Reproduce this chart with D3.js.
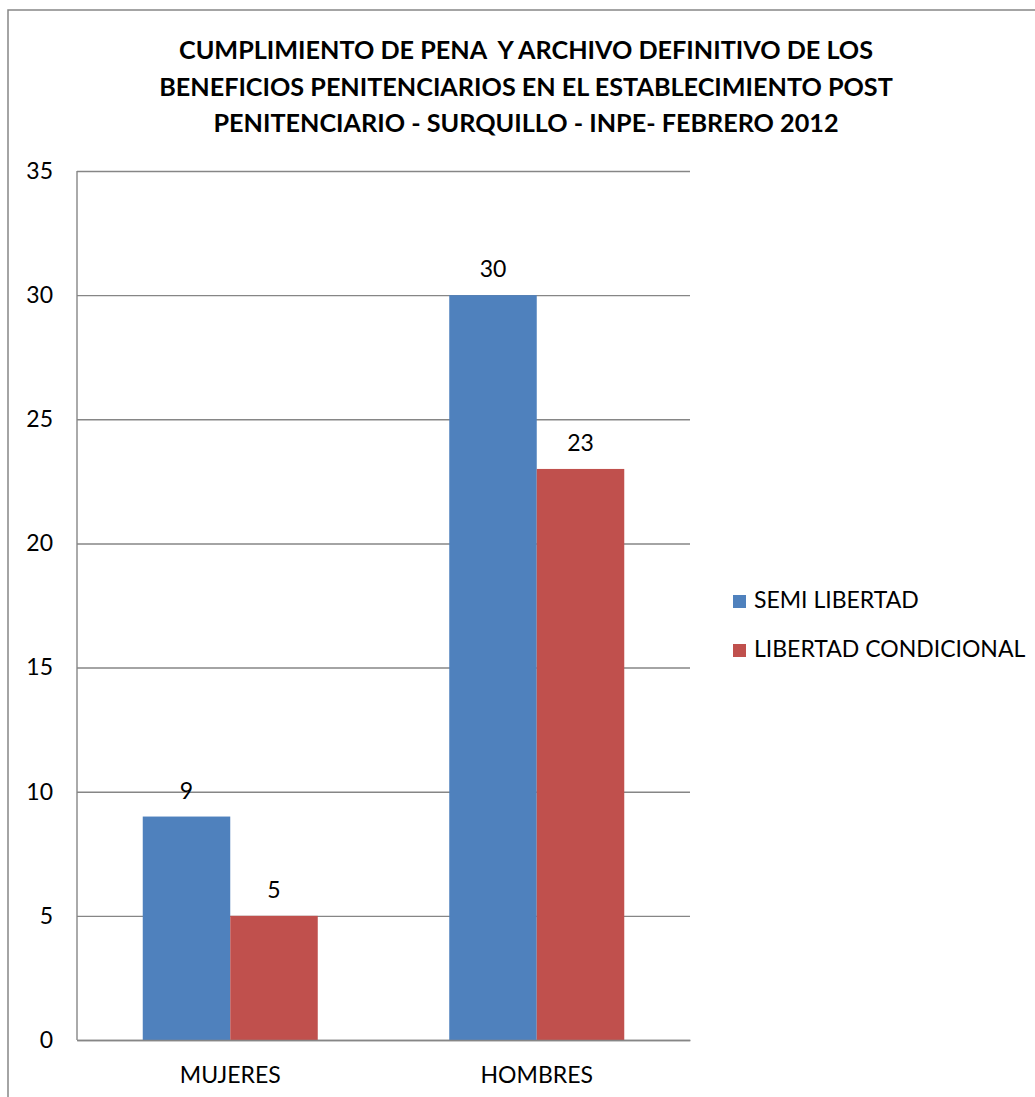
<!DOCTYPE html>
<html>
<head>
<meta charset="utf-8">
<script src="https://cdn.jsdelivr.net/npm/d3@7"></script>
<style>
  body { margin: 0; background: #fff; }
  svg { display: block; font-family: Lato, "Open Sans", sans-serif; }
  .title { white-space: pre; }
</style>
</head>
<body>
<svg id="chart" width="1035" height="1097"></svg>
<script>
const titleLines = [
  "CUMPLIMIENTO DE PENA  Y ARCHIVO DEFINITIVO DE LOS",
  "BENEFICIOS PENITENCIARIOS EN EL ESTABLECIMIENTO POST",
  "PENITENCIARIO - SURQUILLO - INPE- FEBRERO 2012"
];
const categories = ["MUJERES", "HOMBRES"];
const seriesNames = ["SEMI LIBERTAD", "LIBERTAD CONDICIONAL"];
const semiLibertad = [9, 30];
const libertadCondicional = [5, 23];
const yTicks = [0, 5, 10, 15, 20, 25, 30, 35];
const colors = ["#4F81BD", "#C0504D"];

const seriesValues = [semiLibertad, libertadCondicional];
const data = categories.map((c, i) => ({
  cat: c,
  vals: seriesNames.map((s, j) => ({ series: s, value: seriesValues[j][i], idx: j }))
}));

const svg = d3.select("#chart");
const plot = { left: 77, right: 690, top: 171, bottom: 1040 };
const grey = "#868686";

// outer chart border (extends off canvas right/bottom)
svg.append("path")
  .attr("d", `M8,1100 L8,10 L1040,10`)
  .attr("fill", "none").attr("stroke", grey).attr("stroke-width", 1.5);

// title
const title = svg.append("text").attr("class", "title").attr("text-anchor", "middle")
  .attr("font-weight", "bold").attr("font-size", 25.2).attr("fill", "#000");
titleLines.forEach((t, i) => {
  title.append("tspan").attr("x", 526).attr("y", 59 + i * 36.5).text(t);
});

const y = d3.scaleLinear().domain([0, 35]).range([plot.bottom, plot.top]);
const x0 = d3.scaleBand().domain(categories).range([plot.left, plot.right])
  .paddingInner(0.429).paddingOuter(0.2145);
const x1 = d3.scaleBand().domain(seriesNames).range([0, x0.bandwidth()]);

// gridlines + y labels via axis
const yAxis = d3.axisLeft(y).tickValues(yTicks).tickSize(-(plot.right - plot.left)).tickPadding(24);
const yg = svg.append("g").attr("transform", `translate(${plot.left},0)`).call(yAxis);
yg.select(".domain").remove();
yg.selectAll(".tick line").attr("stroke", grey).attr("stroke-width", 1.4);
yg.selectAll(".tick text").attr("font-size", 23).attr("fill", "#000")
  .attr("font-family", "Lato, sans-serif");

// vertical axis line
svg.append("line").attr("x1", plot.left).attr("x2", plot.left)
  .attr("y1", plot.top).attr("y2", plot.bottom)
  .attr("stroke", grey).attr("stroke-width", 1.4);

// bars
const groups = svg.selectAll("g.cat").data(data).enter().append("g")
  .attr("class", "cat").attr("transform", d => `translate(${x0(d.cat)},0)`);
groups.selectAll("rect").data(d => d.vals).enter().append("rect")
  .attr("x", d => x1(d.series))
  .attr("width", x1.bandwidth())
  .attr("y", d => y(d.value))
  .attr("height", d => y(0) - y(d.value))
  .attr("fill", d => colors[d.idx]);
groups.selectAll("text.val").data(d => d.vals).enter().append("text")
  .attr("class", "val")
  .attr("x", d => x1(d.series) + x1.bandwidth() / 2)
  .attr("y", d => y(d.value) - 18)
  .attr("text-anchor", "middle").attr("font-size", 23).attr("fill", "#000")
  .text(d => d.value);

// x axis
const xAxis = d3.axisBottom(x0).tickSize(0).tickPadding(27);
const xg = svg.append("g").attr("transform", `translate(0,${plot.bottom})`).call(xAxis);
xg.select(".domain").attr("stroke", grey).attr("stroke-width", 1.4);
xg.selectAll(".tick text").attr("font-size", 23).attr("fill", "#000")
  .attr("font-family", "Lato, sans-serif");

// legend
const legend = svg.selectAll("g.leg").data(seriesNames).enter().append("g")
  .attr("class", "leg").attr("transform", (d, i) => `translate(733,${595 + i * 49})`);
legend.append("rect").attr("width", 13).attr("height", 13).attr("fill", (d, i) => colors[i]);
legend.append("text").attr("x", 21).attr("y", 12.5).attr("font-size", 23).attr("fill", "#000").text(d => d);
</script>
</body>
</html>
